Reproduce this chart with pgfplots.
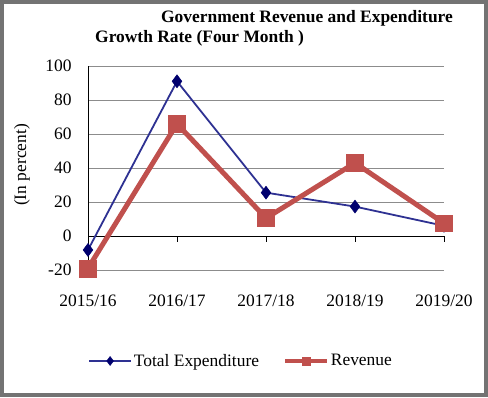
\documentclass[border=0pt]{standalone}
\usepackage{pgfplots}
\pgfplotsset{compat=1.18}
\usepackage{fontspec}
\setmainfont{Liberation Serif}
\definecolor{expblue}{RGB}{46,49,146}
\definecolor{expmark}{RGB}{0,0,110}
\definecolor{revred}{RGB}{192,80,77}
\begin{document}
\begin{tikzpicture}[x=1bp,y=1bp]
\useasboundingbox (0,0) rectangle (488,397);
\fill[white] (0,0) rectangle (488,397);
\draw[line width=4bp, color=black!55] (2,2) rectangle (486,395);
\node[font=\fontsize{17.5}{19}\selectfont\bfseries, anchor=center] at (307,379) {Government Revenue and Expenditure};
\node[font=\fontsize{17.5}{19}\selectfont\bfseries, anchor=west, inner sep=0pt] at (95,359) {Growth Rate (Four Month )};
\node[font=\fontsize{17.5}{19}\selectfont, rotate=90] at (22,232) {(In percent)};
\begin{axis}[
  at={(88bp,127bp)}, anchor=south west,
  scale only axis, width=356bp, height=204bp,
  xmin=0, xmax=4, ymin=-20, ymax=100,
  clip=false,
  axis x line*=bottom, axis y line*=left,
  x axis line style={draw=none},
  y axis line style={black, line width=0.8pt},
  xtick={0,1,2,3,4},
  xticklabels={2015/16,2016/17,2017/18,2018/19,2019/20},
  ytick={-20,0,20,40,60,80,100},
  major tick length=0pt,
  ymajorgrids, grid style={black!45, line width=0.6pt},
  tick label style={font=\fontsize{17.5}{19}\selectfont},
  /pgf/number format/assume math mode=true,
  xticklabel style={yshift=-21bp},
  yticklabel style={xshift=-13bp},
  legend style={at={(0.43,-0.446)}, anchor=center, draw=none, fill=none,
    legend columns=2, font=\fontsize{17.5}{19}\selectfont,
    /tikz/every even column/.append style={column sep=22bp}},
  legend image code/.code={
    \draw[#1, mark repeat=2, mark phase=2] plot coordinates {(0pt,0pt) (21pt,0pt) (42pt,0pt)};},
]
\draw[black, line width=0.8pt] (axis cs:0,0) -- (axis cs:4,0);
\draw[black, line width=0.8pt] (axis cs:1,0) -- (axis cs:1,-3.6);
\draw[black, line width=0.8pt] (axis cs:2,0) -- (axis cs:2,-3.6);
\draw[black, line width=0.8pt] (axis cs:3,0) -- (axis cs:3,-3.6);
\draw[black, line width=0.8pt] (axis cs:4,0) -- (axis cs:4,-3.6);
\addlegendimage{expblue, line width=1.8pt, mark=diamond*, mark size=4.5pt,
  mark options={fill=expmark, draw=expmark, line width=0.5pt}}
\addlegendentry{Total Expenditure}
\addlegendimage{revred, line width=4pt, mark=square*, mark size=3.8pt,
  mark options={fill=revred, draw=revred, line width=0.5pt}}
\addlegendentry{Revenue}
\addplot[expblue, line width=1.8pt, mark=diamond*, mark size=6.5pt,
  mark options={fill=expmark, draw=expmark, line width=0.5pt}, forget plot]
  coordinates {(0,-8.2) (1,91) (2,25.5) (3,17.3) (4,6)};
\addplot[revred, line width=5pt, mark=square*, mark size=8.5pt,
  mark options={fill=revred, draw=revred, line width=0.5pt}, forget plot]
  coordinates {(0,-19) (1,66) (2,10.5) (3,43) (4,7.5)};
\end{axis}
\end{tikzpicture}
\end{document}
